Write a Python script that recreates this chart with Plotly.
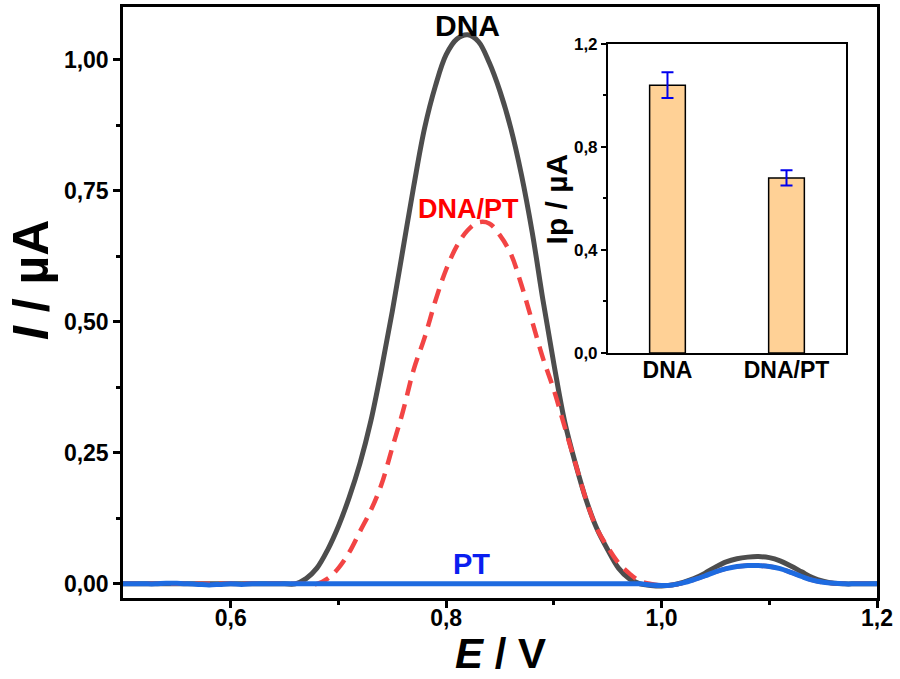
import plotly.graph_objects as go

# ---- data ----
potential = [round(0.50 + 0.01 * i, 2) for i in range(71)]

dna = [0, 0, 0, 0, 0, 0, 0, 0, 0, 0,            # 0.50-0.59
       0, 0, 0, 0, 0, 0, 0, 0.01, 0.03, 0.065,    # 0.60-0.69
       0.11, 0.165, 0.23, 0.31, 0.41, 0.52, 0.64, 0.76, 0.87, 0.95,   # 0.70-0.79
       1.01, 1.04, 1.048, 1.035, 0.995, 0.94, 0.87, 0.78, 0.67, 0.54,  # 0.80-0.89
       0.42, 0.31, 0.23, 0.16, 0.105, 0.065, 0.03, 0.01, 0.0, -0.003,  # 0.90-0.99
       -0.004, -0.002, 0.003, 0.01, 0.02, 0.032, 0.042, 0.048, 0.051, 0.052,  # 1.00-1.09
       0.05, 0.044, 0.034, 0.023, 0.012, 0.005, 0.001, 0, 0, 0,   # 1.10-1.19
       0]                                                           # 1.20

dna_pt = [0, 0, 0, 0, 0, 0, 0, 0, 0, 0,
          0, 0, 0, 0, 0, 0, 0, 0, 0, 0.01,
          0.03, 0.06, 0.10, 0.14, 0.19, 0.26, 0.33, 0.41, 0.47, 0.54,
          0.60, 0.645, 0.675, 0.69, 0.688, 0.665, 0.63, 0.57, 0.50, 0.43,
          0.37, 0.30, 0.23, 0.16, 0.105, 0.07, 0.04, 0.02, 0.005, 0.0,
          -0.003, -0.002, 0.002, 0.008, 0.015, 0.023, 0.029, 0.033, 0.035, 0.035,
          0.033, 0.029, 0.022, 0.014, 0.007, 0.003, 0.001, 0, 0, 0,
          0]

pt = [0, 0, 0, 0, 0.001, 0.001, 0, -0.001, -0.002, -0.001,
      0, -0.001, 0, 0, 0, 0, 0, 0, 0, 0,
      0, 0, 0, 0, 0, 0, 0, 0, 0, 0,
      0, 0, 0, 0, 0, 0, 0, 0, 0, 0,
      0, 0, 0, 0, 0, 0, 0, 0, 0, -0.002,
      -0.003, -0.002, 0.002, 0.008, 0.015, 0.023, 0.029, 0.033, 0.035, 0.035,
      0.033, 0.029, 0.022, 0.014, 0.007, 0.003, 0.001, 0, 0, 0,
      0]

inset_categories = ["DNA", "DNA/PT"]
inset_values = [1.04, 0.68]
inset_errors = [0.05, 0.03]

y_ticks = [0.0, 0.25, 0.5, 0.75, 1.0]
x_ticks = [0.6, 0.8, 1.0, 1.2]
inset_ticks = [0.0, 0.4, 0.8, 1.2]

FONT = "Liberation Sans, Arial, sans-serif"

fig = go.Figure()

fig.add_trace(go.Scatter(x=potential, y=dna, mode="lines", line=dict(color="#4d4d4d", width=5, shape="spline"),
                         showlegend=False))
fig.add_trace(go.Scatter(x=potential, y=dna_pt, mode="lines",
                         line=dict(color="#f24444", width=4.5, dash="15px,9px", shape="spline"), showlegend=False))
fig.add_trace(go.Scatter(x=potential, y=pt, mode="lines", line=dict(color="#1e6be0", width=5, shape="spline"),
                         showlegend=False))

fig.add_trace(go.Bar(x=[0, 1], y=inset_values, width=0.3,
                     marker=dict(color="#ffd196", line=dict(color="black", width=1.5)),
                     error_y=dict(type="data", array=inset_errors, color="#0000ee", thickness=2, width=6),
                     xaxis="x2", yaxis="y2", showlegend=False))

fig.update_layout(
    width=900, height=679,
    margin=dict(l=123, r=23, t=7, b=81),
    paper_bgcolor="white", plot_bgcolor="white",
    separators=",.",
    font=dict(family=FONT, color="black"),
    xaxis=dict(range=[0.5, 1.2], tickvals=x_ticks, tickformat=".1f", automargin=False,
               showgrid=False, zeroline=False, showline=True, linecolor="black", linewidth=2.5, mirror=True,
               ticks="outside", ticklen=7, tickwidth=2.5, tickcolor="black", ticklabelstandoff=-9,
               tickfont=dict(size=23, family=FONT, weight="bold"),
               minor=dict(tickvals=[0.7, 0.9, 1.1], ticks="outside", ticklen=4, tickwidth=2.5, tickcolor="black")),
    yaxis=dict(range=[-0.027, 1.101], tickvals=y_ticks, tickformat=".2f", automargin=False,
               showgrid=False, zeroline=False, showline=True, linecolor="black", linewidth=2.5, mirror=True,
               ticks="outside", ticklen=7, tickwidth=2.5, tickcolor="black",
               tickfont=dict(size=23, family=FONT, weight="bold"),
               minor=dict(tickvals=[0.125, 0.375, 0.625, 0.875], ticks="outside", ticklen=4, tickwidth=2.5,
                          tickcolor="black")),
    xaxis2=dict(domain=[0.6432, 0.9589], anchor="y2", range=[-0.5, 1.5], automargin=False,
                tickvals=[0, 1], ticktext=inset_categories, ticks="", ticklabelstandoff=-5,
                showgrid=False, zeroline=False, showline=True, linecolor="black", linewidth=2, mirror=True,
                tickfont=dict(size=23, family=FONT, weight="bold")),
    yaxis2=dict(domain=[0.4146, 0.9374], anchor="x2", range=[0, 1.2], tickvals=inset_ticks, tickformat=".1f",
                automargin=False,
                showgrid=False, zeroline=False, showline=True, linecolor="black", linewidth=2, mirror=True,
                ticks="outside", ticklen=5, tickwidth=2, tickcolor="black",
                tickfont=dict(size=17, family=FONT, weight="bold"),
                minor=dict(tickvals=[0.2, 0.6, 1.0], ticks="outside", ticklen=3, tickwidth=2, tickcolor="black")),
)

# axis titles
fig.add_annotation(xref="paper", yref="paper", x=0.5, y=0, yshift=-55, xanchor="center", yanchor="middle",
                   text="<b><i>E</i> / V</b>", showarrow=False, font=dict(size=42, family=FONT, color="black"))
fig.add_annotation(xref="paper", yref="paper", x=0, y=0.538, xshift=-92, xanchor="center", yanchor="middle",
                   textangle=-90, text="<b><i>I</i> / µA</b>", showarrow=False,
                   font=dict(size=50, family=FONT, color="black"))
fig.add_annotation(xref="paper", yref="paper", x=0.6432, y=0.6760, xshift=-51, xanchor="center", yanchor="middle",
                   textangle=-90, text="<b>Ip / µA</b>", showarrow=False,
                   font=dict(size=30, family=FONT, color="black"))

# curve labels
fig.add_annotation(x=0.8195, y=1.065, text="<b>DNA</b>", showarrow=False, yanchor="middle",
                   font=dict(size=30, color="black", family=FONT))
fig.add_annotation(x=0.821, y=0.716, text="<b>DNA/PT</b>", showarrow=False, yanchor="middle",
                   font=dict(size=27, color="#ff0000", family=FONT))
fig.add_annotation(x=0.824, y=0.038, text="<b>PT</b>", showarrow=False, yanchor="middle",
                   font=dict(size=29, color="#0a1ef0", family=FONT))

fig.write_html("out.html", config={"displayModeBar": False},
               post_script="document.body.style.margin='0';document.body.style.overflow='hidden';")
